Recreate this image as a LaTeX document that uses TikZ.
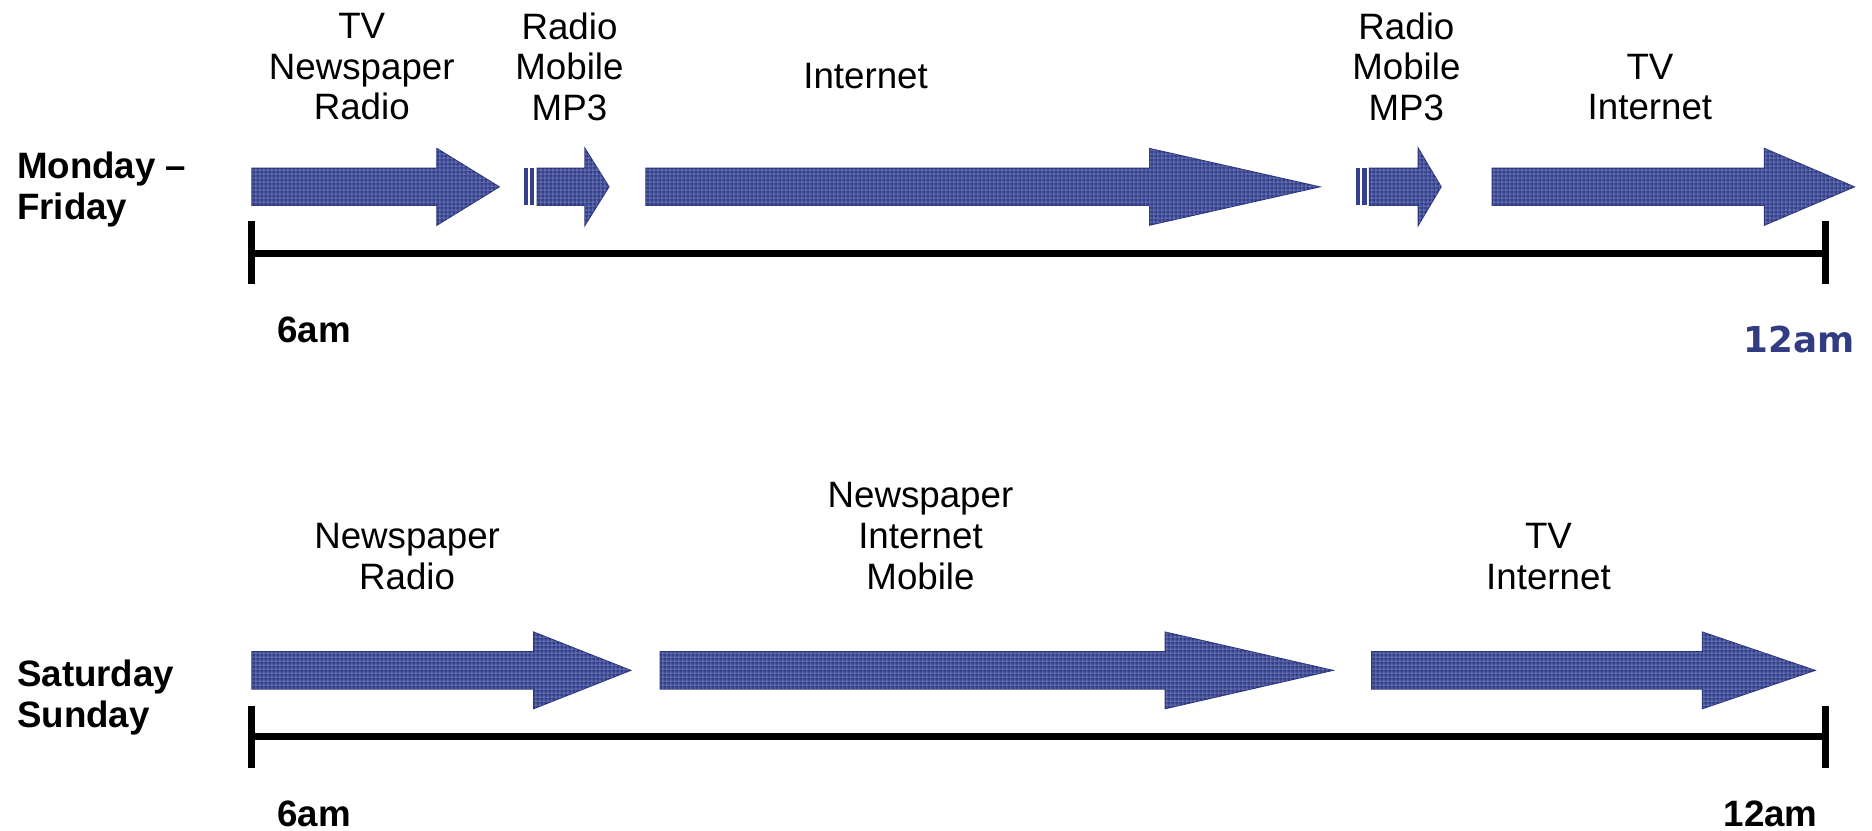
\documentclass[tikz,border=0pt]{standalone}
\usepackage{fontspec}
\setmainfont{Liberation Sans}
\newfontfamily\verd{DejaVu Sans}
\usetikzlibrary{patterns}
\definecolor{arrowblue}{RGB}{52,64,140}
\definecolor{arrowedge}{RGB}{40,50,125}
\definecolor{gridlite}{RGB}{150,160,205}
\definecolor{labelblue}{RGB}{50,60,130}

% fine lattice drawn over the arrow bodies
\pgfdeclarepatternformonly{finegrid}{\pgfpointorigin}{\pgfpoint{2pt}{2pt}}{\pgfpoint{2pt}{2pt}}{%
  \pgfsetlinewidth{0.45pt}%
  \pgfpathmoveto{\pgfpoint{0pt}{0.5pt}}\pgfpathlineto{\pgfpoint{2pt}{0.5pt}}%
  \pgfpathmoveto{\pgfpoint{0.5pt}{0pt}}\pgfpathlineto{\pgfpoint{0.5pt}{2pt}}%
  \pgfusepath{stroke}}

\tikzset{
  txt/.style={font=\fontsize{17.5}{19.4}\selectfont, align=center, inner sep=0pt},
  daylbl/.style={font=\fontsize{17.5}{19.4}\selectfont\bfseries, align=left, anchor=west, inner sep=0pt},
  timelbl/.style={font=\fontsize{17.5}{19}\selectfont\bfseries, inner sep=0pt, anchor=base},
  widelbl/.style={font=\verd\fontsize{17}{19}\selectfont\bfseries, inner sep=0pt, anchor=base},
  axis/.style={line width=3.4pt},
  fat/.style={fill=arrowblue, draw=arrowedge, line width=0.6pt},
  bar/.style={fill=arrowblue},
  fattex/.style={pattern=finegrid, pattern color=gridlite, opacity=0.55},
}

% block arrow: #1 start x, #2 head base x, #3 tip x, #4 centre y
\newcommand\blockarrow[4]{%
  \path[fat] (#1,#4-15.5) -- (#2,#4-15.5) -- (#2,#4-32) -- (#3,#4) -- (#2,#4+32) -- (#2,#4+15.5) -- (#1,#4+15.5) -- cycle;
  \path[fattex] (#1,#4-15.5) -- (#2,#4-15.5) -- (#2,#4-32) -- (#3,#4) -- (#2,#4+32) -- (#2,#4+15.5) -- (#1,#4+15.5) -- cycle;}
% two thin bars ahead of a short arrow
\newcommand\barpair[2]{%
  \path[bar] (#1,#2-15.5) rectangle (#1+3.2,#2+15.5);
  \path[bar] (#1+5,#2-15.5) rectangle (#1+8.6,#2+15.5);}

\begin{document}
\begin{tikzpicture}[x=0.02cm, y=-0.02cm]
\useasboundingbox (0,0) rectangle (1568,696);

% ---------- Monday - Friday ----------
\node[daylbl] (wk) at (14,159) {Monday --\\Friday};

\node[txt] (l1) at (303,56) {TV\\Newspaper\\Radio};
\node[txt] (l2) at (477,56) {Radio\\Mobile\\MP3};
\node[txt] (l3) at (725,64) {Internet};
\node[txt] (l4) at (1178,56) {Radio\\Mobile\\MP3};
\node[txt] (l5) at (1382,73) {TV\\Internet};

\blockarrow{211}{366}{418}{156.5}
\barpair{439}{156.5}
\blockarrow{450}{490}{510}{156.5}
\blockarrow{541}{963}{1105}{156.5}
\barpair{1136}{156.5}
\blockarrow{1147}{1188}{1207}{156.5}
\blockarrow{1250}{1478}{1553}{156.5}

\coordinate (a0) at (211,212);
\coordinate (a1) at (1529,212);
\draw[axis] (a0) -- (a1);
\draw[axis] (211,185) -- (211,238);
\draw[axis] (1529,185) -- (1529,238);

\node[timelbl] (t0) at (263,286.5) {6am};
\node[widelbl, text=labelblue] (t1) at (1507,295) {12am};

% ---------- Saturday / Sunday ----------
\node[daylbl] (we) at (14,584) {Saturday\\Sunday};

\node[txt] (m1) at (341,466) {Newspaper\\Radio};
\node[txt] (m2) at (771,449) {Newspaper\\Internet\\Mobile};
\node[txt] (m3) at (1297,466) {TV\\Internet};

\blockarrow{211}{447}{528}{561.5}
\blockarrow{553}{976}{1116}{561.5}
\blockarrow{1149}{1426}{1520}{561.5}

\coordinate (b0) at (211,617);
\coordinate (b1) at (1529,617);
\draw[axis] (b0) -- (b1);
\draw[axis] (211,591) -- (211,643);
\draw[axis] (1529,591) -- (1529,643);

\node[timelbl] (s0) at (263,692) {6am};
\node[timelbl] (s1) at (1483,692) {12am};
\end{tikzpicture}
\end{document}
